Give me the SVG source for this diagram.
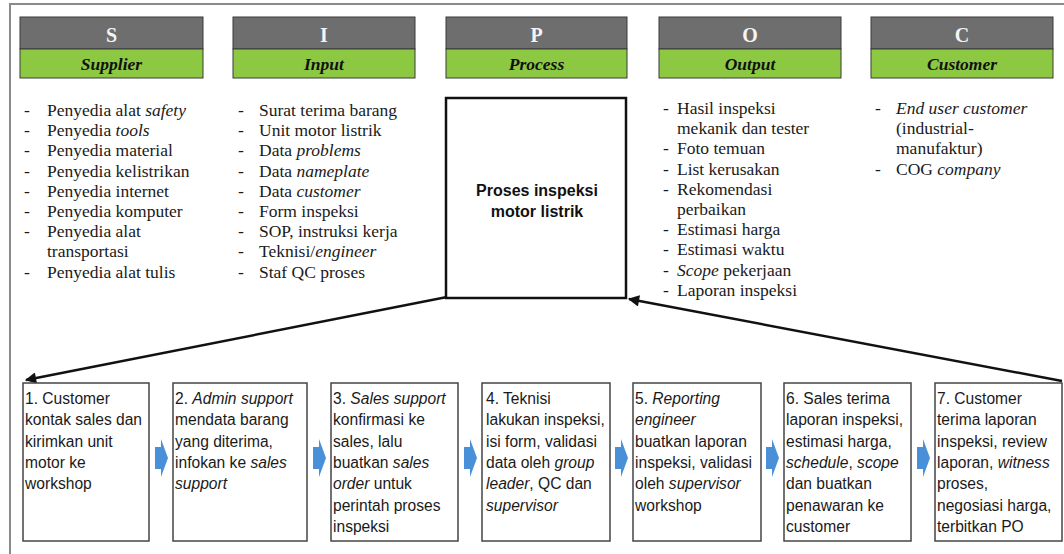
<svg xmlns="http://www.w3.org/2000/svg" width="1064" height="554" viewBox="0 0 1064 554">
<style>
.frame{fill:none;stroke:#8a8a8a;stroke-width:2}
.hg{fill:#6e6e6e;stroke:#3a3a3a;stroke-width:1}
.hgr{fill:#8dc842;stroke:#3a3a3a;stroke-width:1}
.hl{font-family:"Liberation Serif",serif;font-weight:bold;font-size:20px;fill:#f4f4f4;text-anchor:middle}
.hs{font-family:"Liberation Serif",serif;font-weight:bold;font-style:italic;font-size:17.5px;fill:#111;text-anchor:middle}
.ls{font-family:"Liberation Serif",serif;font-size:17.5px;fill:#1a1a1a}
.it{font-style:italic}
.pbox{fill:#fff;stroke:#111;stroke-width:2.5}
.pt{font-family:"Liberation Sans",sans-serif;font-weight:bold;font-size:16px;fill:#111;text-anchor:middle}
.box{fill:#fff;stroke:#444;stroke-width:1.5}
.bt{font-family:"Liberation Sans",sans-serif;font-size:15.6px;fill:#1a1a1a}
.blue{fill:#4a90d9}
.conn{fill:none;stroke:#111;stroke-width:2.5}
</style>
<defs>
<marker id="ah" viewBox="0 0 10 10" refX="9" refY="5" markerWidth="5.5" markerHeight="4.5" orient="auto" markerUnits="strokeWidth">
<path d="M0,0 L10,5 L0,10 z" fill="#111"/>
</marker>
<path id="barrow" d="M-6,-11 L0,-11 L0,-19 L7,0 L0,19 L0,11 L-6,11 z"/>
</defs>
<rect width="1064" height="554" fill="#fff"/>
<rect class="frame" x="10" y="4" width="1070" height="570"/>

<g id="header-S">
<rect class="hg" x="20" y="17" width="183" height="32"/>
<rect class="hgr" x="20" y="49" width="183" height="29"/>
<text class="hl" x="111.5" y="42">S</text>
<text class="hs" x="111.5" y="70">Supplier</text>
</g>
<g id="header-I">
<rect class="hg" x="233" y="17" width="182" height="32"/>
<rect class="hgr" x="233" y="49" width="182" height="29"/>
<text class="hl" x="324" y="42">I</text>
<text class="hs" x="324" y="70">Input</text>
</g>
<g id="header-P">
<rect class="hg" x="446" y="17" width="181" height="32"/>
<rect class="hgr" x="446" y="49" width="181" height="29"/>
<text class="hl" x="536.5" y="42">P</text>
<text class="hs" x="536.5" y="70">Process</text>
</g>
<g id="header-O">
<rect class="hg" x="659" y="17" width="182" height="32"/>
<rect class="hgr" x="659" y="49" width="182" height="29"/>
<text class="hl" x="750" y="42">O</text>
<text class="hs" x="750" y="70">Output</text>
</g>
<g id="header-C">
<rect class="hg" x="871" y="17" width="182" height="32"/>
<rect class="hgr" x="871" y="49" width="182" height="29"/>
<text class="hl" x="962" y="42">C</text>
<text class="hs" x="962" y="70">Customer</text>
</g>

<g id="list-supplier" class="ls">
<text x="24" y="116">-</text><text x="47" y="116">Penyedia alat <tspan class="it">safety</tspan></text>
<text x="24" y="136.2">-</text><text x="47" y="136.2">Penyedia <tspan class="it">tools</tspan></text>
<text x="24" y="156.4">-</text><text x="47" y="156.4">Penyedia material</text>
<text x="24" y="176.6">-</text><text x="47" y="176.6">Penyedia kelistrikan</text>
<text x="24" y="196.8">-</text><text x="47" y="196.8">Penyedia internet</text>
<text x="24" y="217">-</text><text x="47" y="217">Penyedia komputer</text>
<text x="24" y="237.2">-</text><text x="47" y="237.2">Penyedia alat</text>
<text x="47" y="257.4">transportasi</text>
<text x="24" y="277.6">-</text><text x="47" y="277.6">Penyedia alat tulis</text>
</g>

<g id="list-input" class="ls">
<text x="238" y="116">-</text><text x="259" y="116">Surat terima barang</text>
<text x="238" y="136.2">-</text><text x="259" y="136.2">Unit motor listrik</text>
<text x="238" y="156.4">-</text><text x="259" y="156.4">Data <tspan class="it">problems</tspan></text>
<text x="238" y="176.6">-</text><text x="259" y="176.6">Data <tspan class="it">nameplate</tspan></text>
<text x="238" y="196.8">-</text><text x="259" y="196.8">Data <tspan class="it">customer</tspan></text>
<text x="238" y="217">-</text><text x="259" y="217">Form inspeksi</text>
<text x="238" y="237.2">-</text><text x="259" y="237.2">SOP, instruksi kerja</text>
<text x="238" y="257.4">-</text><text x="259" y="257.4">Teknisi/<tspan class="it">engineer</tspan></text>
<text x="238" y="277.6">-</text><text x="259" y="277.6">Staf QC proses</text>
</g>

<g id="process">
<rect class="pbox" x="446" y="98" width="180" height="200"/>
<text class="pt" x="537" y="196">Proses inspeksi</text>
<text class="pt" x="537" y="217">motor listrik</text>
</g>

<g id="list-output" class="ls">
<text x="663" y="114">-</text><text x="677" y="114">Hasil inspeksi</text>
<text x="677" y="134.2">mekanik dan tester</text>
<text x="663" y="154.4">-</text><text x="677" y="154.4">Foto temuan</text>
<text x="663" y="174.6">-</text><text x="677" y="174.6">List kerusakan</text>
<text x="663" y="194.8">-</text><text x="677" y="194.8">Rekomendasi</text>
<text x="677" y="215">perbaikan</text>
<text x="663" y="235.2">-</text><text x="677" y="235.2">Estimasi harga</text>
<text x="663" y="255.4">-</text><text x="677" y="255.4">Estimasi waktu</text>
<text x="663" y="275.6">-</text><text x="677" y="275.6"><tspan class="it">Scope</tspan> pekerjaan</text>
<text x="663" y="295.8">-</text><text x="677" y="295.8">Laporan inspeksi</text>
</g>

<g id="list-customer" class="ls">
<text x="875" y="114">-</text><text x="896" y="114" class="it">End user customer</text>
<text x="896" y="134.2">(industrial-</text>
<text x="896" y="154.4">manufaktur)</text>
<text x="875" y="174.6">-</text><text x="896" y="174.6">COG <tspan class="it">company</tspan></text>
</g>

<g id="connectors">
<line class="conn" x1="447" y1="297" x2="26" y2="380" marker-end="url(#ah)"/>
<line class="conn" x1="1062" y1="381" x2="629" y2="299" marker-end="url(#ah)"/>
<use href="#barrow" class="blue" x="161" y="458"/>
<use href="#barrow" class="blue" x="319" y="458"/>
<use href="#barrow" class="blue" x="470" y="458"/>
<use href="#barrow" class="blue" x="621" y="458"/>
<use href="#barrow" class="blue" x="772" y="458"/>
<use href="#barrow" class="blue" x="923" y="458"/>
</g>

<g id="step1">
<rect class="box" x="23" y="383" width="126" height="158"/>
<text class="bt" x="25" y="404">1. Customer</text>
<text class="bt" x="25" y="425.3">kontak sales dan</text>
<text class="bt" x="25" y="446.6">kirimkan unit</text>
<text class="bt" x="25" y="467.9">motor ke</text>
<text class="bt" x="25" y="489.2">workshop</text>
</g>
<g id="step2">
<rect class="box" x="173" y="383" width="134" height="158"/>
<text class="bt" x="175" y="404">2. <tspan class="it">Admin support</tspan></text>
<text class="bt" x="175" y="425.3">mendata barang</text>
<text class="bt" x="175" y="446.6">yang diterima,</text>
<text class="bt" x="175" y="467.9">infokan ke <tspan class="it">sales</tspan></text>
<text class="bt" x="175" y="489.2"><tspan class="it">support</tspan></text>
</g>
<g id="step3">
<rect class="box" x="331" y="383" width="127" height="158"/>
<text class="bt" x="333" y="404">3. <tspan class="it">Sales support</tspan></text>
<text class="bt" x="333" y="425.3">konfirmasi ke</text>
<text class="bt" x="333" y="446.6">sales, lalu</text>
<text class="bt" x="333" y="467.9">buatkan <tspan class="it">sales</tspan></text>
<text class="bt" x="333" y="489.2"><tspan class="it">order</tspan> untuk</text>
<text class="bt" x="333" y="510.5">perintah proses</text>
<text class="bt" x="333" y="531.8">inspeksi</text>
</g>
<g id="step4">
<rect class="box" x="482" y="383" width="128" height="158"/>
<text class="bt" x="486" y="404">4. Teknisi</text>
<text class="bt" x="486" y="425.3">lakukan inspeksi,</text>
<text class="bt" x="486" y="446.6">isi form, validasi</text>
<text class="bt" x="486" y="467.9">data oleh <tspan class="it">group</tspan></text>
<text class="bt" x="486" y="489.2"><tspan class="it">leader</tspan>, QC dan</text>
<text class="bt" x="486" y="510.5"><tspan class="it">supervisor</tspan></text>
</g>
<g id="step5">
<rect class="box" x="633" y="383" width="128" height="158"/>
<text class="bt" x="635" y="404">5. <tspan class="it">Reporting</tspan></text>
<text class="bt" x="635" y="425.3"><tspan class="it">engineer</tspan></text>
<text class="bt" x="635" y="446.6">buatkan laporan</text>
<text class="bt" x="635" y="467.9">inspeksi, validasi</text>
<text class="bt" x="635" y="489.2">oleh <tspan class="it">supervisor</tspan></text>
<text class="bt" x="635" y="510.5">workshop</text>
</g>
<g id="step6">
<rect class="box" x="784" y="383" width="127" height="158"/>
<text class="bt" x="786" y="404">6. Sales terima</text>
<text class="bt" x="786" y="425.3">laporan inspeksi,</text>
<text class="bt" x="786" y="446.6">estimasi harga,</text>
<text class="bt" x="786" y="467.9"><tspan class="it">schedule</tspan>, <tspan class="it">scope</tspan></text>
<text class="bt" x="786" y="489.2">dan buatkan</text>
<text class="bt" x="786" y="510.5">penawaran ke</text>
<text class="bt" x="786" y="531.8">customer</text>
</g>
<g id="step7">
<rect class="box" x="935" y="383" width="127" height="158"/>
<text class="bt" x="937" y="404">7. Customer</text>
<text class="bt" x="937" y="425.3">terima laporan</text>
<text class="bt" x="937" y="446.6">inspeksi, review</text>
<text class="bt" x="937" y="467.9">laporan, <tspan class="it">witness</tspan></text>
<text class="bt" x="937" y="489.2">proses,</text>
<text class="bt" x="937" y="510.5">negosiasi harga,</text>
<text class="bt" x="937" y="531.8">terbitkan PO</text>
</g>
</svg>
